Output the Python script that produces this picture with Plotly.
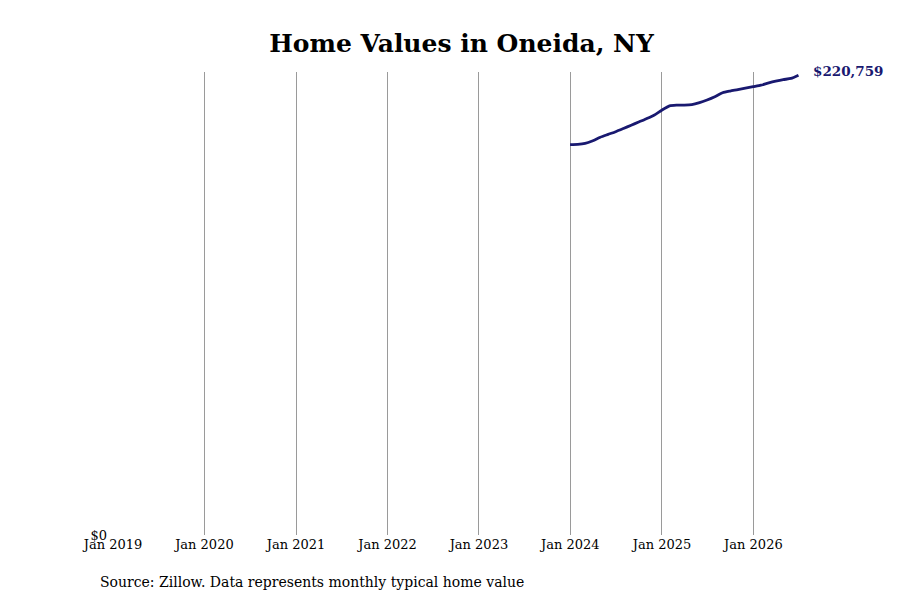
import pandas as pd
import plotly.graph_objects as go

# monthly typical home value (Zillow), month-end dates
dates = pd.date_range("2023-12-31", "2026-06-30", freq="ME")
values = [
    187400, 187500, 187980, 189320, 191000, 192340, 193640, 195180,
    196760, 198300, 199880, 201560, 203960, 206020, 206360, 206360,
    206600, 207560, 208850, 210440, 212360, 213170, 213800, 214520,
    215240, 215960, 216920, 217880, 218640, 219220, 220759,
]

tick_dates = pd.date_range("2019-01-01", "2026-01-01", freq="YS")
tick_text = [d.strftime("%b %Y") for d in tick_dates]

NAVY = "#191970"
FONT = "DejaVu Serif"

fig = go.Figure(
    go.Scatter(
        x=dates,
        y=values,
        mode="lines",
        line=dict(color=NAVY, width=2.8, shape="spline", smoothing=0.6),
        hoverinfo="skip",
    )
)

fig.add_annotation(
    x=dates[-1],
    y=values[-1],
    text=f"<b>${values[-1]:,}</b>",
    showarrow=False,
    xanchor="left",
    xshift=13,
    yshift=4,
    font=dict(family=FONT, size=13.5, color=NAVY),
)

fig.add_annotation(
    x=-0.021,
    y=-0.101,
    xref="paper",
    yref="paper",
    text="Source: Zillow. Data represents monthly typical home value",
    showarrow=False,
    xanchor="left",
    yanchor="middle",
    font=dict(family=FONT, size=14, color="#000000"),
)

# page body adds an 8px offset, so the figure is 8px smaller on each side
fig.update_layout(
    width=892,
    height=592,
    margin=dict(l=105, r=90, t=64, b=65),
    paper_bgcolor="white",
    plot_bgcolor="white",
    showlegend=False,
    font=dict(family=FONT, size=13, color="#000000"),
    title=dict(
        text="<b>Home Values in Oneida, NY</b>",
        x=0.5,
        xref="paper",
        xanchor="center",
        y=1 - 35 / 592,
        yanchor="middle",
        font=dict(family=FONT, size=25, color="#000000"),
    ),
    xaxis=dict(
        range=["2019-01-01", "2026-08-15"],
        tickvals=tick_dates,
        ticktext=tick_text,
        showgrid=True,
        gridcolor="#9a9a9a",
        gridwidth=1,
        showline=False,
        zeroline=False,
        ticks="",
    ),
    yaxis=dict(
        range=[0, 222300],
        tickvals=[0],
        ticktext=["$0"],
        ticklabelstandoff=5,
        showgrid=False,
        zeroline=False,
        showline=False,
        ticks="",
    ),
)

fig.write_html("out.html")
